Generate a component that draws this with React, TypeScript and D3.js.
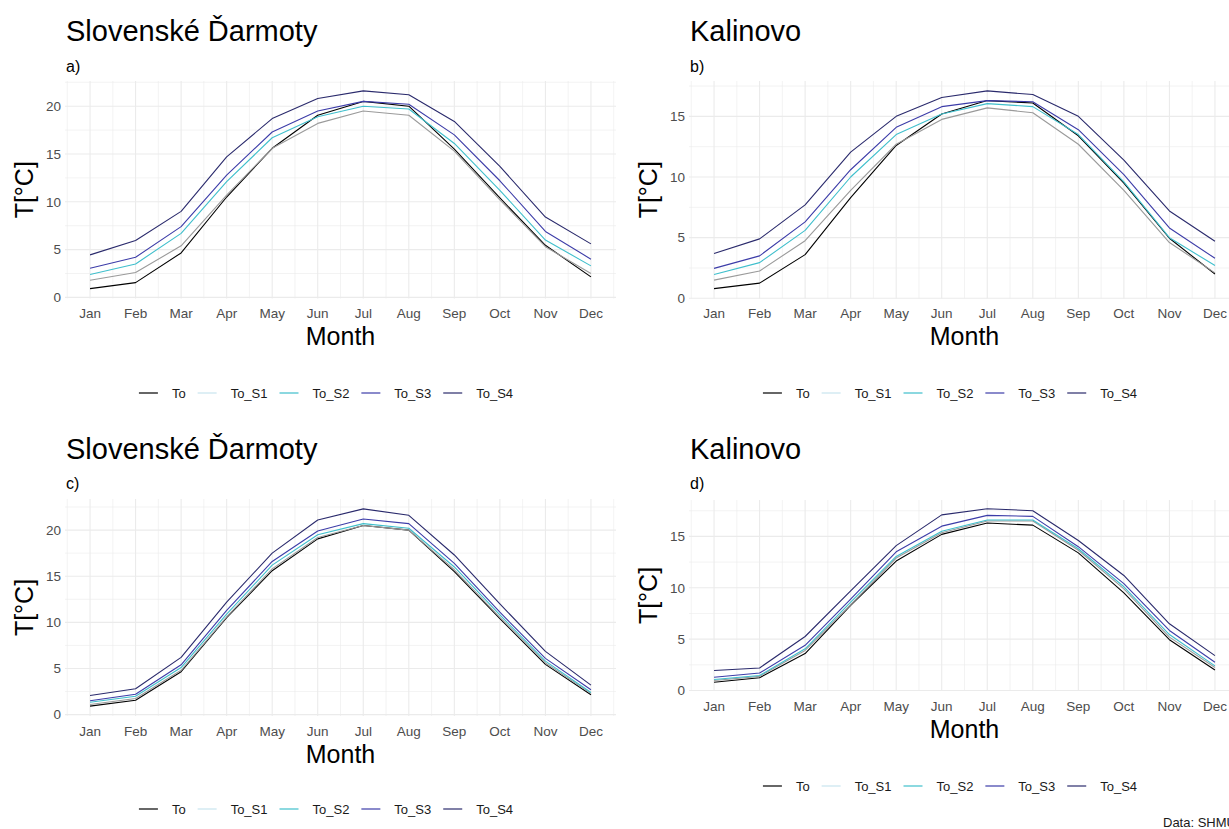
import React, { useEffect } from "react";
import * as d3 from "d3";

// Month labels and indices
const MONTHS = ["Jan", "Feb", "Mar", "Apr", "May", "Jun", "Jul", "Aug", "Sep", "Oct", "Nov", "Dec"];
const MONTH_IDX = d3.range(1, 13);

// Series names
const SERIES = ["To", "To_S1", "To_S2", "To_S3", "To_S4"];

// Observed monthly mean temperature (°C)
const darmotyTo = [0.92, 1.55, 4.65, 10.5, 15.6, 19.05, 20.5, 20.0, 15.5, 10.4, 5.45, 2.15];
const kalinovoTo = [0.8, 1.25, 3.6, 8.3, 12.6, 15.2, 16.3, 16.1, 13.4, 9.5, 4.95, 2.0];

// Scenario set a) Slovenské Ďarmoty
const darmotyA_S1 = [1.8, 2.6, 5.4, 10.7, 15.6, 18.2, 19.5, 19.05, 15.3, 10.2, 5.3, 2.5];
const darmotyA_S2 = [2.4, 3.5, 6.7, 12.1, 16.7, 18.9, 20.0, 19.7, 16.1, 11.2, 6.0, 3.3];
const darmotyA_S3 = [3.05, 4.2, 7.4, 12.8, 17.3, 19.5, 20.5, 20.2, 17.0, 12.2, 6.9, 4.0];
const darmotyA_S4 = [4.45, 5.96, 9.0, 14.7, 18.7, 20.8, 21.6, 21.2, 18.4, 13.7, 8.4, 5.6];

// Scenario set b) Kalinovo
const kalinovoB_S1 = [1.5, 2.25, 4.75, 8.9, 12.7, 14.75, 15.7, 15.3, 12.7, 8.9, 4.6, 2.1];
const kalinovoB_S2 = [1.97, 2.94, 5.6, 10.0, 13.5, 15.2, 16.05, 15.8, 13.5, 9.6, 5.0, 2.7];
const kalinovoB_S3 = [2.47, 3.5, 6.3, 10.6, 14.1, 15.8, 16.3, 16.2, 13.9, 10.2, 5.8, 3.3];
const kalinovoB_S4 = [3.7, 4.9, 7.7, 12.05, 15.0, 16.55, 17.1, 16.8, 15.0, 11.4, 7.2, 4.7];

// Scenario set c) Slovenské Ďarmoty
const darmotyC_S1 = [1.1, 1.75, 4.8, 10.6, 15.8, 19.2, 20.5, 20.0, 15.7, 10.55, 5.6, 2.3];
const darmotyC_S2 = [1.34, 2.0, 5.1, 10.9, 16.2, 19.5, 20.7, 20.2, 16.0, 10.8, 5.8, 2.4];
const darmotyC_S3 = [1.5, 2.2, 5.4, 11.3, 16.6, 19.9, 21.2, 20.7, 16.4, 11.1, 6.1, 2.7];
const darmotyC_S4 = [2.07, 2.8, 6.2, 12.2, 17.5, 21.1, 22.3, 21.6, 17.3, 12.0, 6.85, 3.2];

// Scenario set d) Kalinovo
const kalinovoD_S1 = [0.98, 1.38, 3.9, 8.35, 12.9, 15.35, 16.5, 16.5, 13.65, 9.9, 5.2, 2.25];
const kalinovoD_S2 = [1.07, 1.46, 4.06, 8.6, 13.05, 15.5, 16.6, 16.6, 13.8, 10.1, 5.45, 2.4];
const kalinovoD_S3 = [1.3, 1.7, 4.4, 8.9, 13.5, 16.0, 17.05, 16.95, 14.0, 10.4, 5.85, 2.75];
const kalinovoD_S4 = [1.95, 2.2, 5.26, 9.7, 14.1, 17.1, 17.7, 17.5, 14.6, 11.2, 6.5, 3.4];

const Y_TICKS = [0, 5, 10, 15, 20];

const LINE_COLORS = ["#000000", "#9a9a9a", "#3fbfcc", "#3c3ca8", "#2a2a6c"];
const KEY_COLORS = ["#000000", "#c8e4ee", "#3fbfcc", "#3c3ca8", "#2a2a6c"];

const FONT = "'Liberation Sans', Arial, Helvetica, sans-serif";
const GRID = "#ebebeb";
const TICK_TXT = "#4d4d4d";

interface PanelSpec {
  title: string;
  tag: string;
  dx: number;
  titleY: number;
  tagY: number;
  top: number;
  bottom: number;
  legendY: number;
  values: number[][];
}

const PANELS: PanelSpec[] = [
  { title: "Slovenské Ďarmoty", tag: "a)", dx: 0, titleY: 41, tagY: 72, top: 81, bottom: 298.5, legendY: 393,
    values: [darmotyTo, darmotyA_S1, darmotyA_S2, darmotyA_S3, darmotyA_S4] },
  { title: "Kalinovo", tag: "b)", dx: 624, titleY: 41, tagY: 72, top: 81, bottom: 298.5, legendY: 393,
    values: [kalinovoTo, kalinovoB_S1, kalinovoB_S2, kalinovoB_S3, kalinovoB_S4] },
  { title: "Slovenské Ďarmoty", tag: "c)", dx: 0, titleY: 459, tagY: 489, top: 499, bottom: 716, legendY: 809,
    values: [darmotyTo, darmotyC_S1, darmotyC_S2, darmotyC_S3, darmotyC_S4] },
  { title: "Kalinovo", tag: "d)", dx: 624, titleY: 459, tagY: 489, top: 500, bottom: 691, legendY: 786,
    values: [kalinovoTo, kalinovoD_S1, kalinovoD_S2, kalinovoD_S3, kalinovoD_S4] },
];

const PANEL_LEFT = 65;
const PANEL_RIGHT = 616;
const LEGEND_CENTER = 326;

function textWidth(s: string, size: number): number {
  const ctx = (textWidth as any).ctx || ((textWidth as any).ctx = document.createElement("canvas").getContext("2d"));
  ctx.font = `${size}px ${FONT}`;
  return ctx.measureText(s).width;
}

function Legend({ cx, cy }: { cx: number; cy: number }) {
  const keyLen = 19;
  const keyGap = 14;
  const itemGap = 12;
  const size = 13;
  const widths = SERIES.map((s) => textWidth(s, size));
  const total = d3.sum(widths) + SERIES.length * (keyLen + keyGap) + (SERIES.length - 1) * itemGap;
  let x = cx - total / 2;
  const items = SERIES.map((s, i) => {
    const x0 = x;
    x += keyLen + keyGap + widths[i] + itemGap;
    return (
      <g key={s}>
        <line x1={x0} x2={x0 + keyLen} y1={cy} y2={cy} stroke={KEY_COLORS[i]} strokeWidth={1.2} />
        <text x={x0 + keyLen + keyGap} y={cy} dy="0.35em" fontSize={size} fill="#1a1a1a" fontFamily={FONT}>
          {s}
        </text>
      </g>
    );
  });
  return <g>{items}</g>;
}

function Panel({ p }: { p: PanelSpec }) {
  const left = PANEL_LEFT + p.dx;
  const right = PANEL_RIGHT + p.dx;
  const x = d3.scaleLinear().domain([0.45, 12.55]).range([left, right]);
  const all = p.values.flat();
  const [mn, mx] = d3.extent(all) as [number, number];
  const pad = (mx - mn) * 0.05;
  const y = d3.scaleLinear().domain([mn - pad, mx + pad]).range([p.bottom, p.top]);
  const [d0, d1] = y.domain();
  const majorY = Y_TICKS.filter((t) => t >= d0 && t <= d1);
  const minorY = d3.range(-2.5, 30, 5).filter((t) => t >= d0 && t <= d1);
  const minorX = d3.range(0.5, 13, 1);
  const line = d3
    .line<number>()
    .x((_, i) => x(MONTH_IDX[i]))
    .y((v) => y(v));
  const cxMid = (left + right) / 2;
  const cyMid = (p.top + p.bottom) / 2;

  return (
    <g>
      {/* grid */}
      {minorY.map((t) => (
        <line key={"my" + t} x1={left} x2={right} y1={y(t)} y2={y(t)} stroke={GRID} strokeWidth={0.6} />
      ))}
      {minorX.map((t) => (
        <line key={"mx" + t} x1={x(t)} x2={x(t)} y1={p.top} y2={p.bottom} stroke={GRID} strokeWidth={0.6} />
      ))}
      {majorY.map((t) => (
        <line key={"y" + t} x1={left} x2={right} y1={y(t)} y2={y(t)} stroke={GRID} strokeWidth={1.1} />
      ))}
      {MONTH_IDX.map((t) => (
        <line key={"x" + t} x1={x(t)} x2={x(t)} y1={p.top} y2={p.bottom} stroke={GRID} strokeWidth={1.1} />
      ))}

      {/* series */}
      {p.values.map((vals, i) => (
        <path key={SERIES[i]} d={line(vals) || ""} fill="none" stroke={LINE_COLORS[i]} strokeWidth={1.1} strokeLinejoin="round" />
      ))}

      {/* axes labels */}
      {majorY.map((t) => (
        <text key={"ty" + t} x={left - 4} y={y(t)} dy="0.35em" textAnchor="end" fontSize={13.5} fill={TICK_TXT} fontFamily={FONT}>
          {t}
        </text>
      ))}
      {MONTHS.map((m, i) => (
        <text key={m} x={x(MONTH_IDX[i])} y={p.bottom + 19.5} textAnchor="middle" fontSize={13.5} fill={TICK_TXT} fontFamily={FONT}>
          {m}
        </text>
      ))}
      <text x={cxMid} y={p.bottom + 46.5} textAnchor="middle" fontSize={25} fill="#000" fontFamily={FONT}>
        Month
      </text>
      <text transform={`translate(${p.dx + 33},${cyMid}) rotate(-90)`} textAnchor="middle" fontSize={25} fill="#000" fontFamily={FONT}>
        T[°C]
      </text>

      {/* titles */}
      <text x={66 + p.dx} y={p.titleY} fontSize={29} fill="#000" fontFamily={FONT}>
        {p.title}
      </text>
      <text x={66 + p.dx} y={p.tagY} fontSize={16} fill="#000" fontFamily={FONT}>
        {p.tag}
      </text>

      <Legend cx={LEGEND_CENTER + p.dx} cy={p.legendY} />
    </g>
  );
}

export default function App() {
  useEffect(() => {
    document.body.style.margin = "0";
  }, []);
  return (
    <svg
      width={1229}
      height={829}
      style={{ position: "fixed", left: 0, top: 0, background: "#fff" }}
      xmlns="http://www.w3.org/2000/svg"
    >
      <rect width={1229} height={829} fill="#fff" />
      {PANELS.map((p) => (
        <Panel key={p.tag} p={p} />
      ))}
      <text x={1163} y={827} fontSize={13} fill="#1a1a1a" fontFamily={FONT}>
        Data: SHMÚ
      </text>
    </svg>
  );
}
